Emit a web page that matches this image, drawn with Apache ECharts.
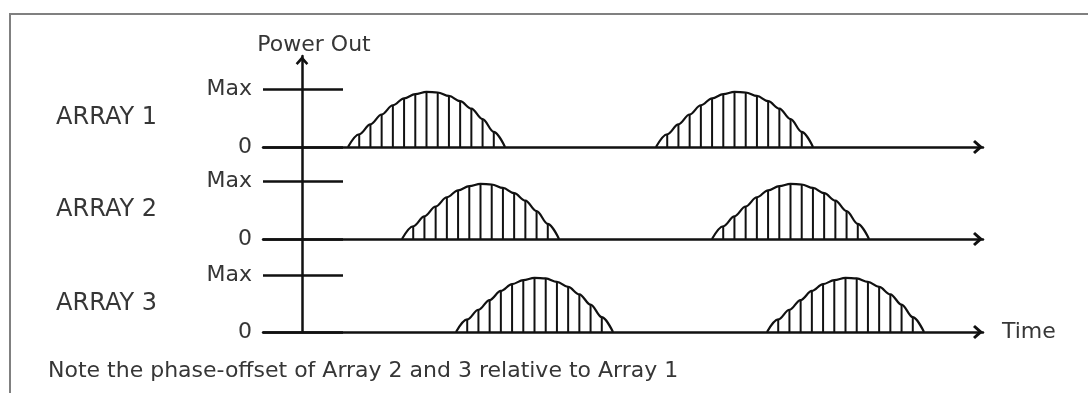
<!DOCTYPE html>
<html>
<head>
<meta charset="utf-8">
<title>Array power phase offset</title>
<script src="https://cdn.jsdelivr.net/npm/echarts@6/dist/echarts.min.js"></script>
<style>
  html, body { margin: 0; padding: 0; background: #fff; }
  #main { width: 1088px; height: 393px; }
</style>
</head>
<body>
<div id="main"></div>
<script>
// row labels
var arrayNames = ['ARRAY 1', 'ARRAY 2', 'ARRAY 3'];
// start time of every power hump, per array (0 = the power axis)
var humpStarts = [[46, 354], [100, 410], [154, 465]];
// length of one hump in time units
var humpLength = 157;
// power through one hump as a fraction of Max, equally spaced samples
var humpProfile = [0, 0.22, 0.39, 0.56, 0.72, 0.84, 0.91, 0.95, 0.94, 0.88, 0.79, 0.66, 0.48, 0.26, 0];
// power tick labels (value 0 and value 1)
var powerTicks = ['0', 'Max'];
var timeMin = -39;
var timeMax = 681;
var noteText = 'Note the phase-offset of Array 2 and 3 relative to Array 1';

var ink = '#111';
var textCol = '#363636';
var font = 'DejaVu Sans';
// open chevron, pointing up (echarts rotates it along the axis)
var chevron = 'path://M7,0 L14,8 L12,10 L7,4.6 L2,10 L0,8 Z';

var step = humpLength / (humpProfile.length - 1);

var grids = [];
var xAxes = [];
var yAxes = [];
var series = [];
var rowTops = [89, 181, 275];

arrayNames.forEach(function (name, k) {
  grids.push({ left: 263, right: 105, top: rowTops[k], height: k == 2 ? 57 : 58 });
  xAxes.push({
    gridIndex: k, type: 'value', min: timeMin, max: timeMax,
    axisLine: { show: true, symbol: ['none', chevron], symbolSize: [14, 10], symbolOffset: [0, -5],
      lineStyle: { color: ink, width: 2.5 } },
    axisTick: { show: false }, axisLabel: { show: false }, splitLine: { show: false },
    name: k == 2 ? 'Time' : '', nameLocation: 'end', nameGap: 19,
    nameTextStyle: { fontFamily: font, fontSize: 22, color: textCol, padding: [0, 0, 8, 0] }
  });
  yAxes.push({
    gridIndex: k, type: 'value', min: 0, max: 1, interval: 1, position: 'left',
    axisLine: { show: false, onZero: false },
    axisTick: { show: true, inside: true, length: 80, lineStyle: { color: ink, width: 2.5 } },
    axisLabel: { margin: 11, fontFamily: font, fontSize: 22, color: textCol,
      formatter: function (v) { return powerTicks[v]; } },
    splitLine: { show: false },
    name: name, nameLocation: 'middle', nameRotate: 0, nameGap: 106,
    nameTextStyle: { fontFamily: font, fontSize: 24, color: textCol, padding: [6, 0, 0, 0] }
  });

  var hatch = [];
  humpStarts[k].forEach(function (s) {
    var hump = humpProfile.map(function (v, i) { return [s + i * step, v]; });
    hump.slice(1, -1).forEach(function (p) { hatch.push(p); });
    series.push({
      type: 'line', xAxisIndex: k, yAxisIndex: k, data: hump,
      smooth: 0.35, smoothMonotone: 'x', symbol: 'none',
      lineStyle: { color: ink, width: 2.2 }, z: 4
    });
  });
  series.push({
    type: 'bar', xAxisIndex: k, yAxisIndex: k, data: hatch,
    barWidth: 2, itemStyle: { color: ink }, z: 3
  });
});

// the shared "Power Out" axis running through all three rows
grids.push({ left: 302, width: 10, top: 56, bottom: 61 });
xAxes.push({ gridIndex: 3, type: 'value', show: false });
yAxes.push({
  gridIndex: 3, type: 'value', min: 0, max: 1, position: 'left',
  axisLine: { show: true, onZero: false, symbol: ['none', chevron], symbolSize: [13, 9], symbolOffset: [0, -4.5],
    lineStyle: { color: ink, width: 2.5 } },
  axisTick: { show: false }, axisLabel: { show: false }, splitLine: { show: false },
  name: 'Power Out', nameLocation: 'end', nameGap: 0,
  nameTextStyle: { fontFamily: font, fontSize: 22, color: textCol, padding: [0, 0, 0, 24] }
});

var chart = echarts.init(document.getElementById('main'));
chart.setOption({
  animation: false,
  backgroundColor: '#fff',
  title: {
    text: noteText, left: 43, top: 355,
    textStyle: { fontFamily: font, fontSize: 22, fontWeight: 'normal', color: textCol }
  },
  graphic: [{
    type: 'rect', shape: { x: 10, y: 14, width: 1200, height: 500 },
    style: { fill: 'none', stroke: '#808080', lineWidth: 2 }, silent: true
  }],
  grid: grids,
  xAxis: xAxes,
  yAxis: yAxes,
  series: series
});
</script>
</body>
</html>
